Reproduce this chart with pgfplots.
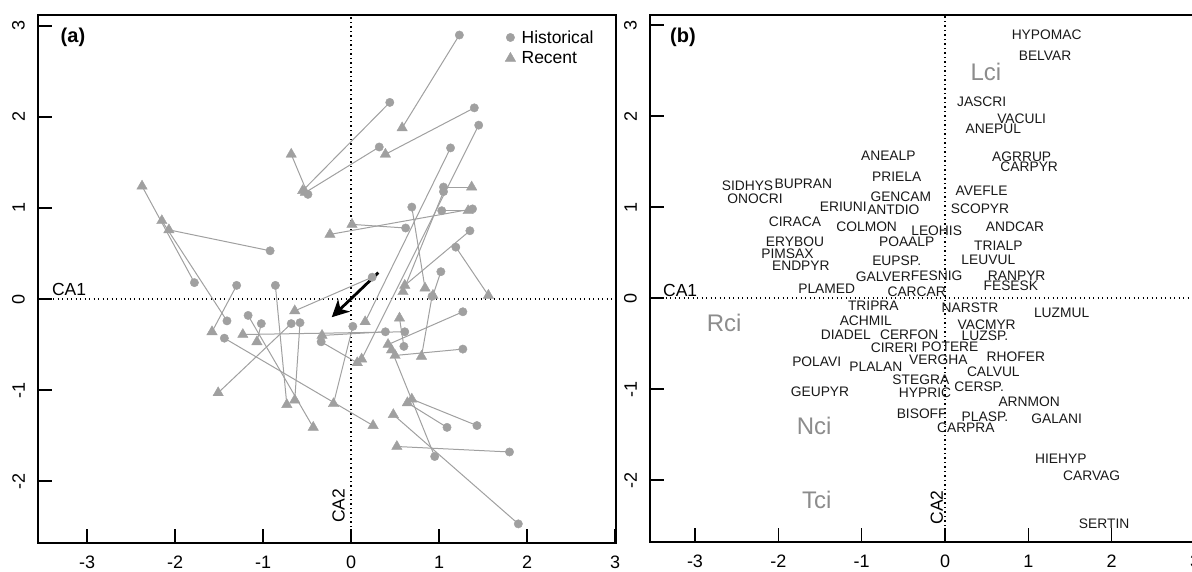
\documentclass[border=0pt]{standalone}
\usepackage{fontspec}
\setmainfont{Liberation Sans}
\usepackage{pgfplots}
\usepackage{pgfplotstable}
\pgfplotsset{compat=1.18}
\usetikzlibrary{arrows.meta}
\definecolor{ptgray}{RGB}{160,160,160}
\definecolor{lblgray}{RGB}{140,140,140}

\pgfplotstableread{
hx hy rx ry
-1.78 0.18 -2.375 1.24
-1.41 -0.24 -2.15 0.86
-0.92 0.53 -2.07 0.76
-1.30 0.15 -1.58 -0.36
-0.86 0.15 -0.73 -1.16
0.24 0.24 -0.64 -0.13
-1.17 -0.18 -0.43 -1.41
-1.02 -0.27 -1.07 -0.47
-0.68 -0.27 -1.51 -1.03
-0.58 -0.26 -0.64 -1.11
-1.44 -0.43 0.25 -1.39
0.61 -0.36 -1.23 -0.39
0.39 -0.36 -0.33 -0.40
-0.34 -0.47 0.07 -0.70
0.02 -0.30 -0.20 -1.15
0.60 -0.52 0.55 -0.21
1.27 -0.14 0.42 -0.50
1.27 -0.55 0.50 -0.62
0.95 -1.73 0.46 -0.56
1.43 -1.39 0.69 -1.10
1.09 -1.41 0.64 -1.14
1.90 -2.47 0.48 -1.27
1.80 -1.68 0.52 -1.62
1.13 1.66 0.16 -0.25
1.45 1.91 0.12 -0.66
1.23 2.90 0.58 1.88
0.44 2.16 -0.55 1.19
1.40 2.10 0.39 1.59
0.32 1.67 -0.52 1.17
-0.49 1.15 -0.68 1.59
1.05 1.23 1.37 1.23
1.05 1.18 0.59 0.08
1.03 0.97 1.33 0.97
1.38 0.99 -0.24 0.71
0.62 0.78 0.01 0.82
0.69 1.01 0.84 0.12
1.35 0.75 0.61 0.15
1.19 0.57 1.56 0.04
1.02 0.30 0.93 0.04
0.92 0.03 0.80 -0.63
}\pairs

\pgfplotstableread{
x y label
-0.68 1.56 ANEALP
-0.58 1.33 PRIELA
-2.37 1.23 SIDHYS
-1.70 1.25 BUPRAN
-2.28 1.09 ONOCRI
-0.53 1.11 GENCAM
-1.22 1.00 ERIUNI
-0.62 0.97 ANTDIO
-1.80 0.84 CIRACA
-0.94 0.78 COLMON
-0.10 0.74 LEOHIS
-1.80 0.62 ERYBOU
-0.46 0.62 POAALP
-1.89 0.49 PIMSAX
-1.73 0.35 ENDPYR
-0.58 0.41 EUPSP.
-0.74 0.23 GALVER
-0.10 0.25 FESNIG
-1.42 0.10 PLAMED
-0.34 0.07 CARCAR
1.22 2.89 HYPOMAC
1.20 2.66 BELVAR
0.44 2.16 JASCRI
0.92 1.97 VACULI
0.58 1.86 ANEPUL
0.92 1.55 AGRRUP
1.01 1.44 CARPYR
0.44 1.18 AVEFLE
0.42 0.98 SCOPYR
0.84 0.78 ANDCAR
0.64 0.58 TRIALP
0.52 0.42 LEUVUL
0.86 0.25 RANPYR
0.79 0.14 FESESK
0.30 -0.11 NARSTR
1.40 -0.16 LUZMUL
0.50 -0.29 VACMYR
0.48 -0.41 LUZSP.
0.85 -0.65 RHOFER
0.58 -0.81 CALVUL
0.41 -0.97 CERSP.
1.01 -1.14 ARNMON
0.48 -1.30 PLASP.
1.34 -1.33 GALANI
0.25 -1.42 CARPRA
1.39 -1.77 HIEHYP
1.76 -1.95 CARVAG
1.91 -2.48 SERTIN
-0.86 -0.08 TRIPRA
-0.95 -0.25 ACHMIL
-1.19 -0.40 DIADEL
-0.43 -0.40 CERFON
-0.61 -0.55 CIRERI
0.06 -0.54 POTERE
-0.08 -0.68 VERGHA
-1.54 -0.70 POLAVI
-0.83 -0.76 PLALAN
-0.29 -0.90 STEGRA
-0.24 -1.04 HYPRIC
-1.50 -1.03 GEUPYR
-0.28 -1.27 BISOFF
}\species

\pgfplotstableread{
x y label
0.49 2.48 Lci
-2.65 -0.27 Rci
-1.57 -1.41 Nci
-1.54 -2.22 Tci
}\groups

\pgfplotsset{rstyle/.style={
  scale only axis,
  axis line style={line width=1.6pt},
  tick align=inside, major tick length=14pt,
  tick style={black,line width=1.6pt},
  tick pos=left,
  xtick={-3,-2,-1,0,1,2,3}, xticklabels={-3,-2,-1,0,1,2,3},
  ytick={-2,-1,0,1,2,3}, yticklabels={-2,-1,0,1,2,3},
  ticklabel style={font=\fontsize{18}{21}\selectfont},
  xticklabel style={anchor=north, inner sep=0pt},
  yticklabel style={rotate=90, anchor=south, inner sep=0pt},
  xticklabel shift=12.5pt, yticklabel shift=13pt,
}}

\begin{document}
\begin{tikzpicture}
% Panel (a)
\begin{axis}[rstyle,
  at={(38pt,28pt)}, anchor=south west,
  width=578pt, height=528pt,
  xmin=-3.557, xmax=3.01, ymin=-2.68, ymax=3.12,
  legend style={at={(0.808,0.975)}, anchor=north west, draw=none, fill=none,
    font=\fontsize{17.5}{21}\selectfont, row sep=3pt, inner sep=0pt,
    nodes={inner xsep=6pt}},
  legend cell align=left,
  legend image code/.code={\draw[#1] plot coordinates {(0.3cm,0cm)};},
]
\addplot[forget plot, black, line width=1.3pt, dash pattern=on 1.3pt off 3.2pt] coordinates {(-4,0) (4,0)};
\addplot[forget plot, black, line width=1.3pt, dash pattern=on 1.3pt off 3.2pt] coordinates {(0,-3) (0,4)};
\addplot[forget plot, ptgray, line width=1pt, mark=none,
  quiver={u=\thisrow{rx}-\thisrow{hx}, v=\thisrow{ry}-\thisrow{hy}}]
  table[x=hx, y=hy] {\pairs};
\addplot[only marks, mark=*, mark size=4.2pt, color=ptgray, mark options={draw=ptgray, fill=ptgray}]
  table[x=hx, y=hy] {\pairs};
\addlegendentry{Historical}
\addplot[only marks, mark=triangle*, mark size=6pt, color=ptgray, mark options={draw=ptgray, fill=ptgray}]
  table[x=rx, y=ry] {\pairs};
\addlegendentry{Recent}
\addplot[forget plot, black, line width=2.8pt, -{Stealth[length=17pt, width=17pt, inset=5pt]}]
  coordinates {(0.31,0.29) (-0.22,-0.20)};
\node[font=\fontsize{20}{24}\selectfont\bfseries] at (axis cs:-3.16,2.88) {(a)};
\node[font=\fontsize{17.5}{21}\selectfont, anchor=south west, inner sep=0pt] at (axis cs:-3.40,0.03) {CA1};
\node[font=\fontsize{17.5}{21}\selectfont, rotate=90, anchor=south west, inner sep=0pt] at (axis cs:-0.07,-2.46) {CA2};
\end{axis}

% Panel (b)
\begin{axis}[rstyle,
  at={(650pt,29pt)}, anchor=south west,
  width=545pt, height=527pt,
  xmin=-3.54, xmax=3.0, ymin=-2.68, ymax=3.11,
]
\addplot[black, line width=1.3pt, dash pattern=on 1.3pt off 3.2pt] coordinates {(-4,0) (4,0)};
\addplot[black, line width=1.3pt, dash pattern=on 1.3pt off 3.2pt] coordinates {(0,-3) (0,4)};
\addplot[only marks, mark=none, nodes near coords, point meta=explicit symbolic,
  nodes near coords align={center},
  every node near coord/.append style={anchor=center, inner sep=0pt, font=\fontsize{13.8}{15}\selectfont, text=black!90}]
  table[x=x, y=y, meta=label] {\species};
\addplot[only marks, mark=none, nodes near coords, point meta=explicit symbolic,
  nodes near coords align={center},
  every node near coord/.append style={anchor=center, inner sep=0pt, font=\fontsize{24}{28}\selectfont, text=lblgray}]
  table[x=x, y=y, meta=label] {\groups};
\node[font=\fontsize{20}{24}\selectfont\bfseries] at (axis cs:-3.145,2.86) {(b)};
\node[font=\fontsize{17.5}{21}\selectfont, anchor=south west, inner sep=0pt] at (axis cs:-3.385,0.01) {CA1};
\node[font=\fontsize{17.5}{21}\selectfont, rotate=90, anchor=south west, inner sep=0pt] at (axis cs:-0.02,-2.49) {CA2};
\end{axis}
\pgfresetboundingbox
\path[use as bounding box] (0,0) rectangle (1192pt,571pt);
\end{tikzpicture}
\end{document}
